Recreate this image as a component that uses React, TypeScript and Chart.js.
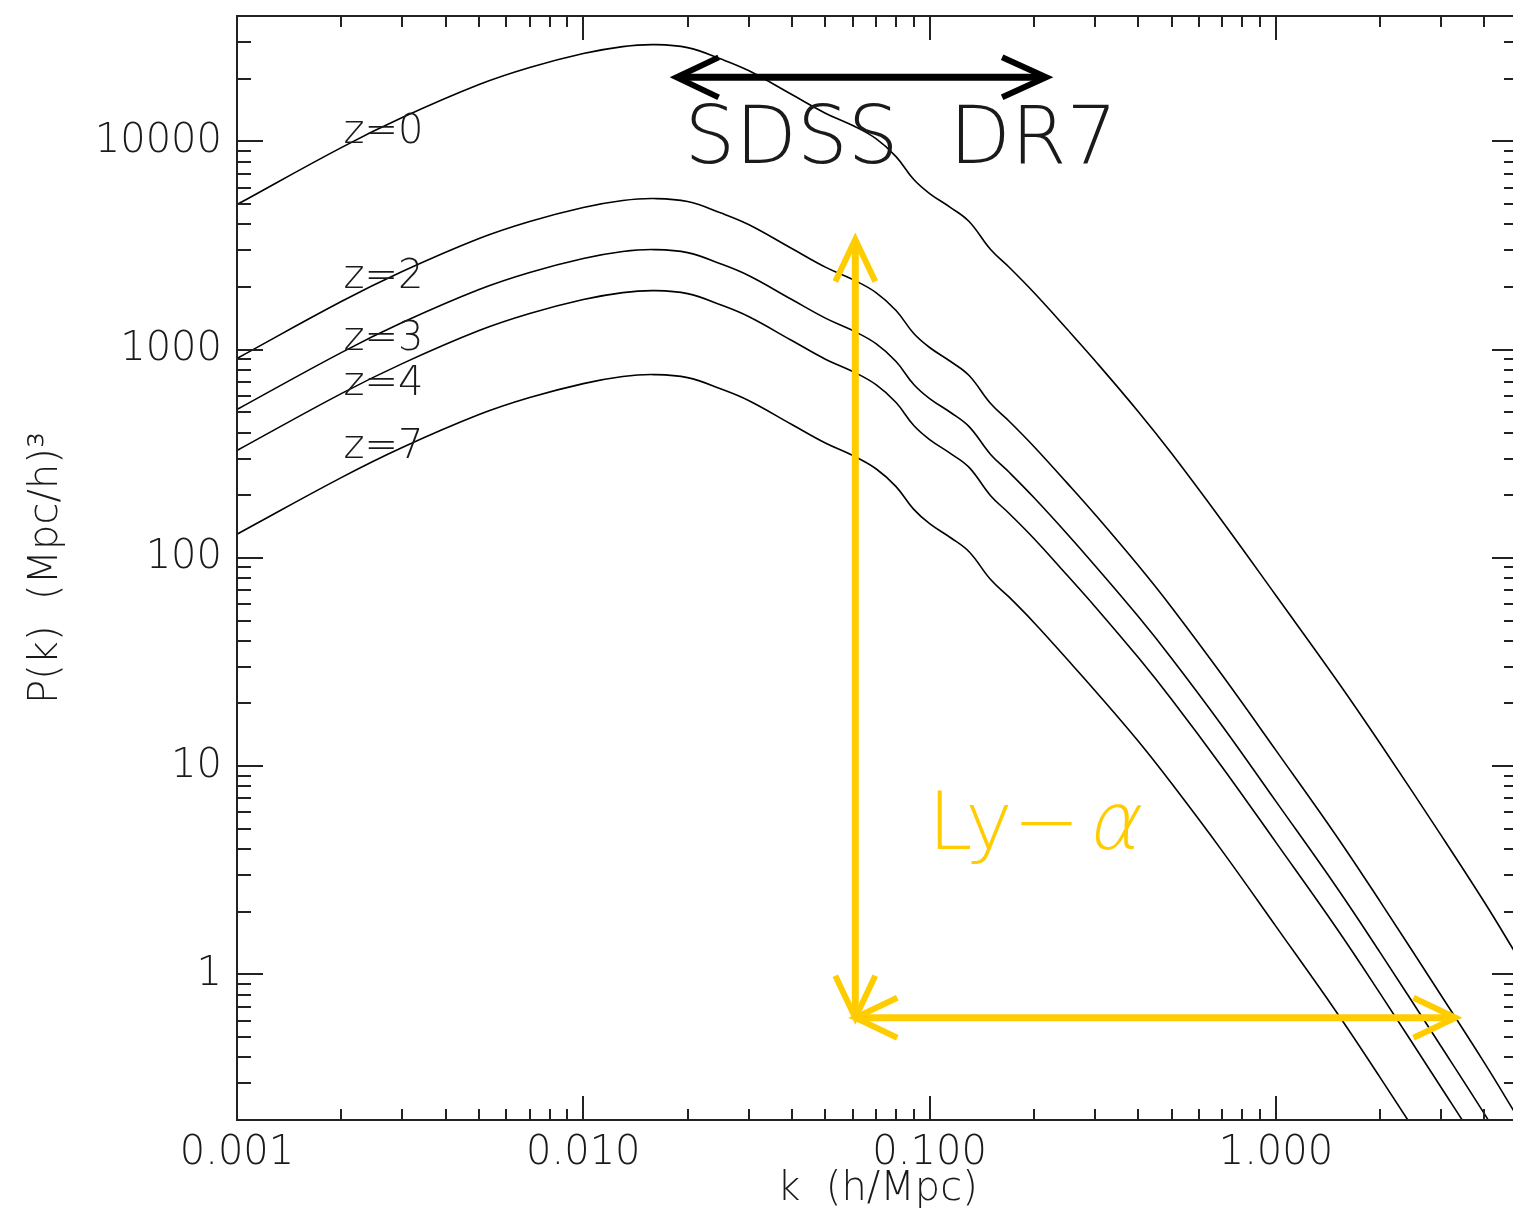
import React, { useEffect, useRef } from 'react';
import { Chart, registerables } from 'chart.js';

Chart.register(...registerables);

// ---- data ----
const K = [0.001, 0.002, 0.003, 0.005, 0.007, 0.01, 0.013, 0.016, 0.02, 0.025, 0.03, 0.04, 0.05, 0.06, 0.07, 0.08, 0.09, 0.1, 0.115, 0.13, 0.15, 0.17, 0.2, 0.25, 0.3, 0.4, 0.5, 0.7, 1.0, 1.5, 2.0, 3.0, 4.0, 5.0];
const P_Z0 = [4975, 9337, 13010, 18740, 22620, 26400, 28520, 29150, 28200, 24840, 21880, 16780, 13660, 11910, 10310, 8453, 6555, 5616, 4811, 4121, 3024, 2479, 1880, 1249, 887, 505, 317, 150, 66.0, 25.8, 12.85, 4.65, 2.22, 1.21];
const P_Z2 = [907, 1702, 2372, 3416, 4124, 4813, 5199, 5314, 5141, 4528, 3989, 3059, 2490, 2171, 1880, 1541, 1195, 1024, 877, 751, 551, 452, 343, 228, 162, 92.1, 57.8, 27.3, 11.91, 4.586, 2.237, 0.7926, 0.376, 0.205];
const P_Z3 = [516, 968, 1349, 1943, 2346, 2738, 2958, 3023, 2924, 2576, 2269, 1740, 1417, 1235, 1069, 877, 680, 582, 499, 427, 314, 257, 195, 130, 92.0, 52.4, 32.9, 15.6, 6.776, 2.609, 1.273, 0.4509, 0.214, 0.117];
const P_Z4 = [328, 615, 857, 1235, 1491, 1740, 1879, 1921, 1858, 1637, 1442, 1106, 900, 785, 679, 557, 432, 370, 317, 272, 199, 163, 124, 82.3, 58.5, 33.3, 20.9, 9.89, 4.306, 1.658, 0.8087, 0.2865, 0.136, 0.0742];
const P_Z7 = [130, 243, 339, 488, 589, 687, 743, 759, 734, 647, 570, 437, 356, 310, 268, 220, 171, 146, 125, 107, 78.7, 64.6, 49.0, 32.5, 23.1, 13.2, 8.25, 3.91, 1.701, 0.655, 0.3196, 0.1132, 0.0538, 0.0293];

const SERIES_NAMES = ['z=0', 'z=2', 'z=3', 'z=4', 'z=7'];
const SERIES_VALUES = [P_Z0, P_Z2, P_Z3, P_Z4, P_Z7];

// curve labels (data coordinates of the text baseline start)
const CURVE_LABEL_K = [0.00203, 0.00203, 0.00203, 0.00203, 0.00203];
const CURVE_LABEL_P = [9870, 1987, 1001, 608, 303];

// axes
const X_MIN = 0.001;
const X_MAX = 5;
const Y_MIN = 0.2;
const Y_MAX = 40000;
const X_TICKS = [0.001, 0.01, 0.1, 1];
const X_TICK_LABELS = ['0.001', '0.010', '0.100', '1.000'];
const Y_TICKS = [1, 10, 100, 1000, 10000];
const Y_TICK_LABELS = ['1', '10', '100', '1000', '10000'];
const X_TITLE = 'k  (h/Mpc)';
const Y_TITLE = 'P(k)  (Mpc/h)\u00B3';

// annotations
const SDSS_ARROW_K = [0.0186, 0.217];
const SDSS_ARROW_P = 20300;
const SDSS_TEXT = 'SDSS  DR7';
const SDSS_TEXT_K = 0.0196;
const SDSS_TEXT_P = 7910;
const LYA_K = [0.061, 3.3];
const LYA_P = [0.62, 3380];
const LYA_TEXT = 'Ly\u2212';
const LYA_ALPHA = '\u03B1';
const LYA_TEXT_K = 0.099;
const LYA_TEXT_P = 3.98;

const FONT = '"DejaVu Sans", "Liberation Sans", sans-serif';
const INK = '#1a1a1a';
const GOLD = '#FFCC00';

function drawArrowHead(ctx: CanvasRenderingContext2D, tx: number, ty: number, dx: number, dy: number, len: number, half: number) {
  const n = Math.hypot(dx, dy) || 1;
  const ux = dx / n, uy = dy / n;
  const bx = tx - ux * len, by = ty - uy * len;
  const px = -uy * half, py = ux * half;
  ctx.beginPath();
  ctx.moveTo(bx + px, by + py);
  ctx.lineTo(tx, ty);
  ctx.lineTo(bx - px, by - py);
  ctx.stroke();
}

const overlayPlugin = {
  id: 'overlay',
  afterDatasetsDraw(chart: any) {
    const { ctx } = chart;
    const x = chart.scales.x;
    const y = chart.scales.y;
    ctx.save();
    // curve labels
    ctx.fillStyle = INK;
    ctx.textAlign = 'left';
    ctx.textBaseline = 'alphabetic';
    ctx.font = `200 40px ${FONT}`;
    SERIES_NAMES.forEach((t, i) => {
      ctx.fillText(t, x.getPixelForValue(CURVE_LABEL_K[i]), y.getPixelForValue(CURVE_LABEL_P[i]));
    });
    // SDSS label + arrow
    ctx.font = `200 80px ${FONT}`;
    ctx.fillText(SDSS_TEXT, x.getPixelForValue(SDSS_TEXT_K), y.getPixelForValue(SDSS_TEXT_P));
    const ay = y.getPixelForValue(SDSS_ARROW_P);
    const ax0 = x.getPixelForValue(SDSS_ARROW_K[0]);
    const ax1 = x.getPixelForValue(SDSS_ARROW_K[1]);
    ctx.strokeStyle = '#000';
    ctx.lineWidth = 7;
    ctx.lineCap = 'butt';
    ctx.lineJoin = 'miter';
    ctx.beginPath();
    ctx.moveTo(ax0 + 3, ay);
    ctx.lineTo(ax1 - 3, ay);
    ctx.stroke();
    ctx.lineWidth = 6;
    drawArrowHead(ctx, ax0, ay, -1, 0, 42, 20);
    drawArrowHead(ctx, ax1, ay, 1, 0, 44, 20);

    // Ly-alpha arrows
    const lx = x.getPixelForValue(LYA_K[0]);
    const lx1 = x.getPixelForValue(LYA_K[1]);
    const ly0 = y.getPixelForValue(LYA_P[0]);
    const ly1 = y.getPixelForValue(LYA_P[1]);
    ctx.strokeStyle = GOLD;
    ctx.lineWidth = 7;
    ctx.beginPath();
    ctx.moveTo(lx, ly0);
    ctx.lineTo(lx, ly1 + 4);
    ctx.stroke();
    ctx.beginPath();
    ctx.moveTo(lx, ly0);
    ctx.lineTo(lx1 - 4, ly0);
    ctx.stroke();
    ctx.lineWidth = 6;
    drawArrowHead(ctx, lx, ly1, 0, -1, 42, 20);
    drawArrowHead(ctx, lx, ly0, 0, 1, 42, 20);
    drawArrowHead(ctx, lx, ly0, -1, 0, 42, 20);
    drawArrowHead(ctx, lx1, ly0, 1, 0, 42, 20);

    // Ly-alpha text
    ctx.fillStyle = GOLD;
    ctx.font = `200 80px ${FONT}`;
    const tx = x.getPixelForValue(LYA_TEXT_K);
    const ty = y.getPixelForValue(LYA_TEXT_P);
    ctx.fillText(LYA_TEXT, tx, ty);
    const w = ctx.measureText(LYA_TEXT).width;
    ctx.save();
    ctx.translate(tx + w + 6, ty);
    ctx.transform(1, 0, -0.22, 1, 0, 0);
    ctx.fillText(LYA_ALPHA, 0, 0);
    ctx.restore();
    ctx.restore();
  },
  afterDraw(chart: any) {
    const { ctx, chartArea: ca } = chart;
    const x = chart.scales.x;
    const y = chart.scales.y;
    ctx.save();
    ctx.strokeStyle = '#222';
    ctx.lineWidth = 2;
    ctx.strokeRect(ca.left, ca.top, ca.right - ca.left, ca.bottom - ca.top);
    ctx.beginPath();
    for (let d = -3; d <= 0; d++) {
      for (let m = 1; m <= 9; m++) {
        const v = m * Math.pow(10, d);
        if (v < X_MIN * 0.999 || v > X_MAX * 1.001) continue;
        const px = Math.round(x.getPixelForValue(v));
        const len = m === 1 ? 24 : 11;
        ctx.moveTo(px, ca.bottom);
        ctx.lineTo(px, ca.bottom - len);
        ctx.moveTo(px, ca.top);
        ctx.lineTo(px, ca.top + len);
      }
    }
    for (let d = -1; d <= 4; d++) {
      for (let m = 1; m <= 9; m++) {
        const v = m * Math.pow(10, d);
        if (v < Y_MIN * 0.999 || v > Y_MAX * 1.001) continue;
        const py = Math.round(y.getPixelForValue(v));
        const len = m === 1 ? 26 : 14;
        ctx.moveTo(ca.left, py);
        ctx.lineTo(ca.left + len, py);
        ctx.moveTo(ca.right, py);
        ctx.lineTo(ca.right - len, py);
      }
    }
    ctx.stroke();
    ctx.restore();
  },
};

export default function App() {
  const canvasRef = useRef<HTMLCanvasElement | null>(null);

  useEffect(() => {
    const canvas = canvasRef.current;
    if (!canvas) return;
    const datasets = SERIES_NAMES.map((name, i) => ({
      label: name,
      data: K.map((k, j) => ({ x: k, y: SERIES_VALUES[i][j] })),
      borderColor: '#000',
      backgroundColor: '#000',
      borderWidth: 1.6,
      pointRadius: 0,
      fill: false,
      tension: 0.4,
    }));
    const tickFont = { family: FONT, size: 40, weight: '200' as any };
    const chart = new Chart(canvas, {
      type: 'line',
      data: { datasets },
      plugins: [overlayPlugin],
      options: {
        animation: false,
        responsive: false,
        devicePixelRatio: 1,
        layout: { padding: { top: 16, right: 2, left: 0, bottom: 0 } },
        plugins: { legend: { display: false }, tooltip: { enabled: false } },
        scales: {
          x: {
            type: 'logarithmic',
            position: 'bottom',
            min: X_MIN,
            max: X_MAX,
            grid: { display: false, drawTicks: false },
            border: { display: false },
            afterBuildTicks: (s: any) => { s.ticks = X_TICKS.map((v) => ({ value: v })); },
            afterFit: (s: any) => { s.height = 100; s.paddingLeft = 0; s.paddingRight = 0; },
            ticks: {
              autoSkip: false,
              maxRotation: 0,
              minRotation: 0,
              padding: 10,
              color: INK,
              font: tickFont,
              callback: (v: any) => { const i = X_TICKS.indexOf(Number(v)); return i >= 0 ? X_TICK_LABELS[i] : ''; },
            },
            title: { display: true, text: X_TITLE, color: INK, font: tickFont, padding: { top: 0, bottom: 6 } },
          },
          y: {
            type: 'logarithmic',
            position: 'left',
            min: Y_MIN,
            max: Y_MAX,
            grid: { display: false, drawTicks: false },
            border: { display: false },
            afterBuildTicks: (s: any) => { s.ticks = Y_TICKS.map((v) => ({ value: v })); },
            afterFit: (s: any) => { s.width = 237; s.paddingTop = 0; s.paddingBottom = 0; },
            ticks: {
              autoSkip: false,
              padding: 15,
              color: INK,
              font: tickFont,
              callback: (v: any) => { const i = Y_TICKS.indexOf(Number(v)); return i >= 0 ? Y_TICK_LABELS[i] : ''; },
            },
            title: { display: true, text: Y_TITLE, color: INK, font: tickFont, padding: { top: 23, bottom: 0 } },
          },
        },
      },
    });
    return () => chart.destroy();
  }, []);

  return (
    <div style={{ position: 'absolute', left: 0, top: 0, width: 1513, height: 1220, overflow: 'hidden', background: '#fff' }}>
      <canvas ref={canvasRef} width={1520} height={1220} style={{ display: 'block' }} />
    </div>
  );
}
